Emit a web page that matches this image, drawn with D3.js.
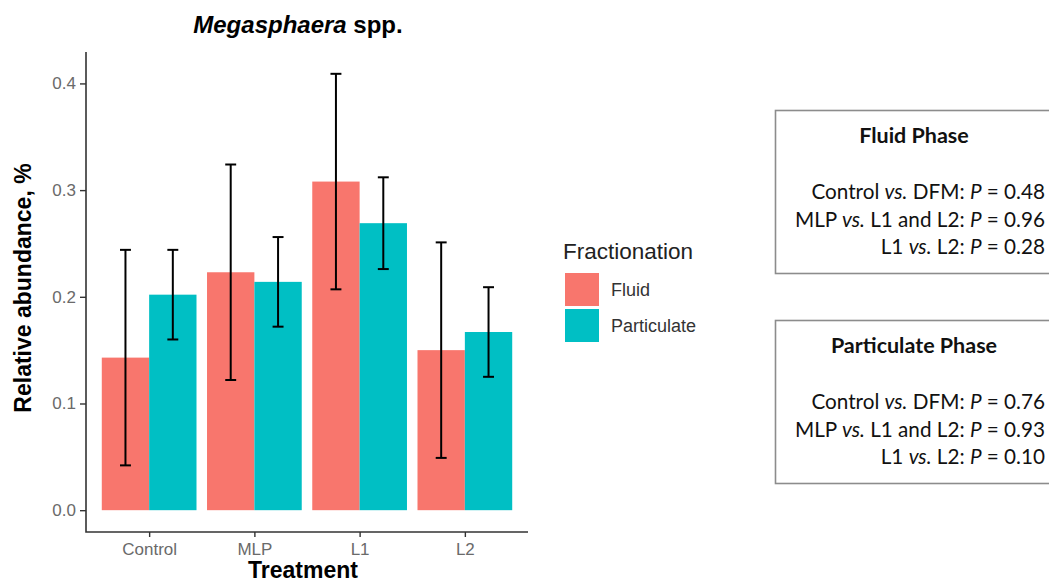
<!DOCTYPE html>
<html>
<head>
<meta charset="utf-8">
<script src="https://cdn.jsdelivr.net/npm/d3@7"></script>
<style>
  body { margin: 0; background: #fff; }
  svg { display: block; }
</style>
</head>
<body>
<svg width="1049" height="583"></svg>
<script>
const svg = d3.select("svg");

// data
const categories = ["Control", "MLP", "L1", "L2"];
const fractions = ["Fluid", "Particulate"];
const fluidMean = [0.143, 0.223, 0.308, 0.150];
const particulateMean = [0.202, 0.214, 0.269, 0.167];
const fluidSE = [0.101, 0.101, 0.101, 0.101];
const particulateSE = [0.042, 0.042, 0.043, 0.042];
const yTicks = [0.0, 0.1, 0.2, 0.3, 0.4];
const fluidP = ["0.48", "0.96", "0.28"];
const particulateP = ["0.76", "0.93", "0.10"];

const cores = { Fluid: "#F8766D", Particulate: "#00BFC4" };

const dados = [];
categories.forEach((c, i) => {
  dados.push({ cat: c, frac: "Fluid", mean: fluidMean[i], se: fluidSE[i] });
  dados.push({ cat: c, frac: "Particulate", mean: particulateMean[i], se: particulateSE[i] });
});

// painel
const esq = 86, dir = 528, topo = 52, base = 532;

const x = d3.scalePoint().domain(categories).range([esq, dir]).padding(0.6);
const passo = x.step();
const xSub = d3.scaleBand().domain(fractions).range([-0.45 * passo, 0.45 * passo]);

const yMax = d3.max(dados, d => d.mean + d.se);
const exp = yMax * 0.05;
const y = d3.scaleLinear().domain([-exp, yMax + exp]).range([base, topo]);

const painel = svg.append("g");

painel.selectAll("rect.barra")
  .data(dados)
  .join("rect")
    .attr("class", "barra")
    .attr("x", d => x(d.cat) + xSub(d.frac))
    .attr("width", xSub.bandwidth())
    .attr("y", d => y(d.mean))
    .attr("height", d => y(0) - y(d.mean))
    .attr("fill", d => cores[d.frac]);

// barras de erro
const capa = passo * 0.052;
const erro = painel.selectAll("g.erro")
  .data(dados)
  .join("g")
    .attr("class", "erro")
    .attr("transform", d => `translate(${x(d.cat) + xSub(d.frac) + xSub.bandwidth() / 2},0)`)
    .attr("stroke", "#000")
    .attr("stroke-width", 2);

erro.append("line")
  .attr("y1", d => y(d.mean - d.se))
  .attr("y2", d => y(d.mean + d.se));
erro.append("line")
  .attr("x1", -capa).attr("x2", capa)
  .attr("y1", d => y(d.mean + d.se)).attr("y2", d => y(d.mean + d.se));
erro.append("line")
  .attr("x1", -capa).attr("x2", capa)
  .attr("y1", d => y(d.mean - d.se)).attr("y2", d => y(d.mean - d.se));

// eixos
const eixoY = svg.append("g")
  .attr("transform", `translate(${esq},0)`)
  .call(d3.axisLeft(y).tickValues(yTicks).tickFormat(d3.format(".1f")).tickSizeOuter(0).tickSize(6).tickPadding(4));

const eixoX = svg.append("g")
  .attr("transform", `translate(0,${base})`)
  .call(d3.axisBottom(x).tickSizeOuter(0).tickSize(5).tickPadding(6));

eixoY.select(".domain").remove();
eixoX.select(".domain").remove();
svg.append("path")
  .attr("d", `M${esq},${topo}V${base}H${dir}`)
  .attr("fill", "none")
  .attr("stroke", "#333")
  .attr("stroke-width", 1.6);

[eixoY, eixoX].forEach(g => {
  g.selectAll(".tick line").attr("stroke", "#333").attr("stroke-width", 1.4);
  g.selectAll(".tick text")
    .attr("fill", "#6a6a6a")
    .attr("font-family", "Liberation Sans, Arial, sans-serif")
    .attr("font-size", 17);
});

// titulos
const titulo = svg.append("text")
  .attr("x", 298)
  .attr("y", 33)
  .attr("text-anchor", "middle")
  .attr("font-family", "Liberation Sans, Arial, sans-serif")
  .attr("font-weight", "bold")
  .attr("font-size", 24);
titulo.append("tspan").attr("font-style", "italic").text("Megasphaera");
titulo.append("tspan").text(" spp.");

svg.append("text")
  .attr("x", 303)
  .attr("y", 578)
  .attr("text-anchor", "middle")
  .attr("font-family", "Liberation Sans, Arial, sans-serif")
  .attr("font-weight", "bold")
  .attr("font-size", 23)
  .text("Treatment");

svg.append("text")
  .attr("transform", "translate(31,288) rotate(-90)")
  .attr("text-anchor", "middle")
  .attr("font-family", "Liberation Sans, Arial, sans-serif")
  .attr("font-weight", "bold")
  .attr("font-size", 23)
  .text("Relative abundance, %");

// legenda
const legenda = svg.append("g").attr("transform", "translate(563,259)");
legenda.append("text")
  .attr("font-family", "Liberation Sans, Arial, sans-serif")
  .attr("font-size", 22.5)
  .attr("fill", "#222")
  .text("Fractionation");

const itens = legenda.selectAll("g.item")
  .data(fractions)
  .join("g")
    .attr("class", "item")
    .attr("transform", (d, i) => `translate(2,${14 + i * 36})`);
itens.append("rect")
  .attr("width", 34)
  .attr("height", 33)
  .attr("fill", d => cores[d]);
itens.append("text")
  .attr("x", 46)
  .attr("y", 17)
  .attr("dy", "0.35em")
  .attr("font-family", "Liberation Sans, Arial, sans-serif")
  .attr("font-size", 18)
  .attr("fill", "#333")
  .text(d => d);

// caixas de P
const rotulos = [
  { pre: "Control", mid: " DFM: " },
  { pre: "MLP", mid: " L1 and L2: " },
  { pre: "L1", mid: " L2: " }
];

function caixa(topoCaixa, nome, ps) {
  const g = svg.append("g").attr("transform", `translate(0,${topoCaixa})`);
  g.append("rect")
    .attr("x", 775.5)
    .attr("y", 0.5)
    .attr("width", 300)
    .attr("height", 163)
    .attr("fill", "#fff")
    .attr("stroke", "#8c8c8c")
    .attr("stroke-width", 1.6);
  g.append("text")
    .attr("x", 914)
    .attr("y", 33)
    .attr("text-anchor", "middle")
    .attr("font-family", "Lato, 'Open Sans', sans-serif")
    .attr("font-weight", "bold")
    .attr("font-size", 21.5)
    .attr("fill", "#111")
    .text(nome);
  ps.forEach((p, i) => {
    const t = g.append("text")
      .attr("x", 1045)
      .attr("y", 89 + i * 27.5)
      .attr("text-anchor", "end")
      .attr("font-family", "Lato, 'Open Sans', sans-serif")
      .attr("font-size", 20.7)
      .attr("fill", "#111");
    t.append("tspan").text(rotulos[i].pre + " ");
    t.append("tspan").attr("font-style", "italic").text("vs.");
    t.append("tspan").text(rotulos[i].mid);
    t.append("tspan").attr("font-style", "italic").text("P");
    t.append("tspan").text(" = " + p);
  });
}

caixa(110, "Fluid Phase", fluidP);
caixa(320, "Particulate Phase", particulateP);
</script>
</body>
</html>
